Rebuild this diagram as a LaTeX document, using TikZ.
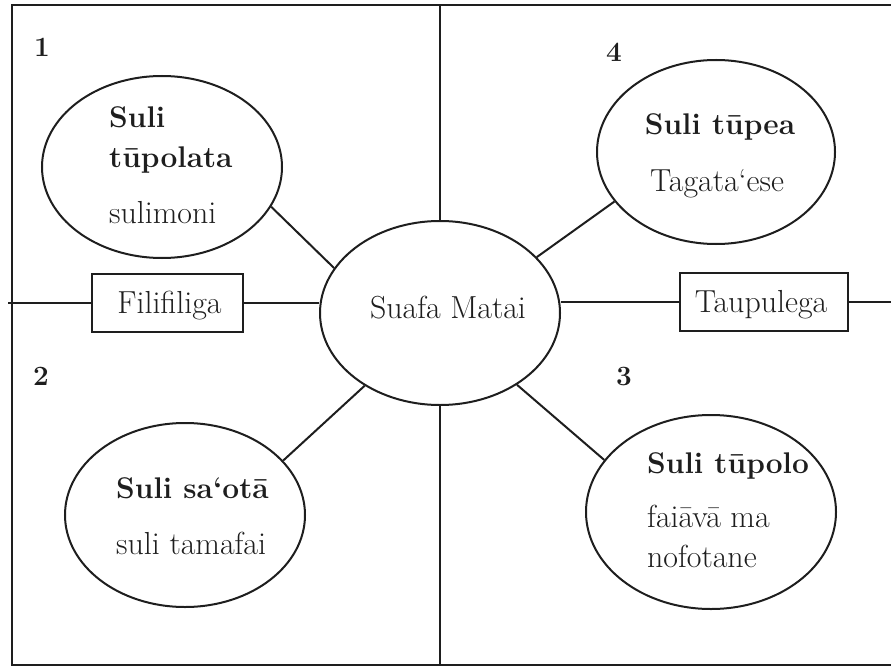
\documentclass[tikz,border=0pt]{standalone}
\usepackage{fontspec}
\usetikzlibrary{shapes.geometric}
\definecolor{ink}{HTML}{1E1E1E}
\begin{document}
\begin{tikzpicture}[x=1bp,y=-1bp,
  every node/.style={inner sep=0pt, text=ink, font=\fontsize{32}{36}\selectfont},
  ln/.style={line width=2bp, draw=ink},
  oval/.style={ellipse, draw=ink, line width=2bp},
  tbox/.style={rectangle, draw=ink, line width=2bp, minimum height=58bp},
  bt/.style={font=\fontsize{30}{34}\selectfont\bfseries},
  num/.style={font=\fontsize{28}{32}\selectfont\bfseries, anchor=base}
  ]
\useasboundingbox (0,0) rectangle (891,667);
% frame
\coordinate (TR) at (891,5);
\coordinate (TL) at (12,5);
\coordinate (BL) at (12,665);
\coordinate (BR) at (891,665);
\draw[ln] (TR) -- (TL) -- (BL) -- (BR);

% central
\node[oval, minimum width=240bp, minimum height=184bp] (c) at (440,313) {};
\node[anchor=base] (ct) at (448,318) {Suafa Matai};

% boxes
\node[tbox, minimum width=151bp] (fil) at (167.5,303) {};
\node[anchor=base] (filt) at (169.5,313) {Filifiliga};
\node[tbox, minimum width=168bp] (tau) at (764,302) {};
\node[anchor=base] (taut) at (761,312) {Taupulega};

% axis lines
\coordinate (L) at (8,303);
\coordinate (R) at (891,302);
\coordinate (T) at (440,5);
\coordinate (B) at (440,665);
\draw[ln] (L) -- (fil.west);
\draw[ln] (fil.east) -- (fil.east -| c.west);
\draw[ln] (c.east |- tau.west) -- (tau.west);
\draw[ln] (tau.east) -- (R);
\draw[ln] (T) -- (c.north);
\draw[ln] (c.south) -- (B);

% ellipse 1
\node[oval, minimum width=240bp, minimum height=182bp] (e1) at (162,167) {};
\node[bt, anchor=base west] (e1a) at (109,128) {Suli};
\node[bt, anchor=base west] (e1b) at (109,168) {tūpolata};
\node[anchor=base west] (e1c) at (109,223) {sulimoni};
\node[num] (n1) at (42,57) {1};

% ellipse 4
\node[oval, minimum width=238bp, minimum height=184bp] (e4) at (716,152) {};
\node[bt, anchor=base] (e4a) at (720,135) {Suli tūpea};
\node[anchor=base] (e4b) at (717,191) {Tagata‘ese};
\node[num] (n4) at (614,62) {4};

% ellipse 2
\node[oval, minimum width=240bp, minimum height=184bp] (e2) at (185,515) {};
\node[bt, anchor=base west] (e2a) at (116,498) {Suli sa‘otā};
\node[anchor=base west] (e2b) at (116,554) {suli tamafai};
\node[num] (n2) at (41,385) {2};

% ellipse 3
\node[oval, minimum width=250bp, minimum height=194bp] (e3) at (711,512) {};
\node[bt, anchor=base west] (e3a) at (647,473) {Suli tūpolo};
\node[anchor=base west] (e3b) at (647,527) {faiāvā ma};
\node[anchor=base west] (e3c) at (647,567) {nofotane};
\node[num] (n3) at (624,385) {3};

% connectors
\draw[ln] (e1.-20.8) -- (c.157.2);
\draw[ln] (e4.206.8) -- (c.30.1);
\draw[ln] (e2.29.6) -- (c.224.2);
\draw[ln] (c.-43.1) -- (e3.154.3);
\end{tikzpicture}
\end{document}
